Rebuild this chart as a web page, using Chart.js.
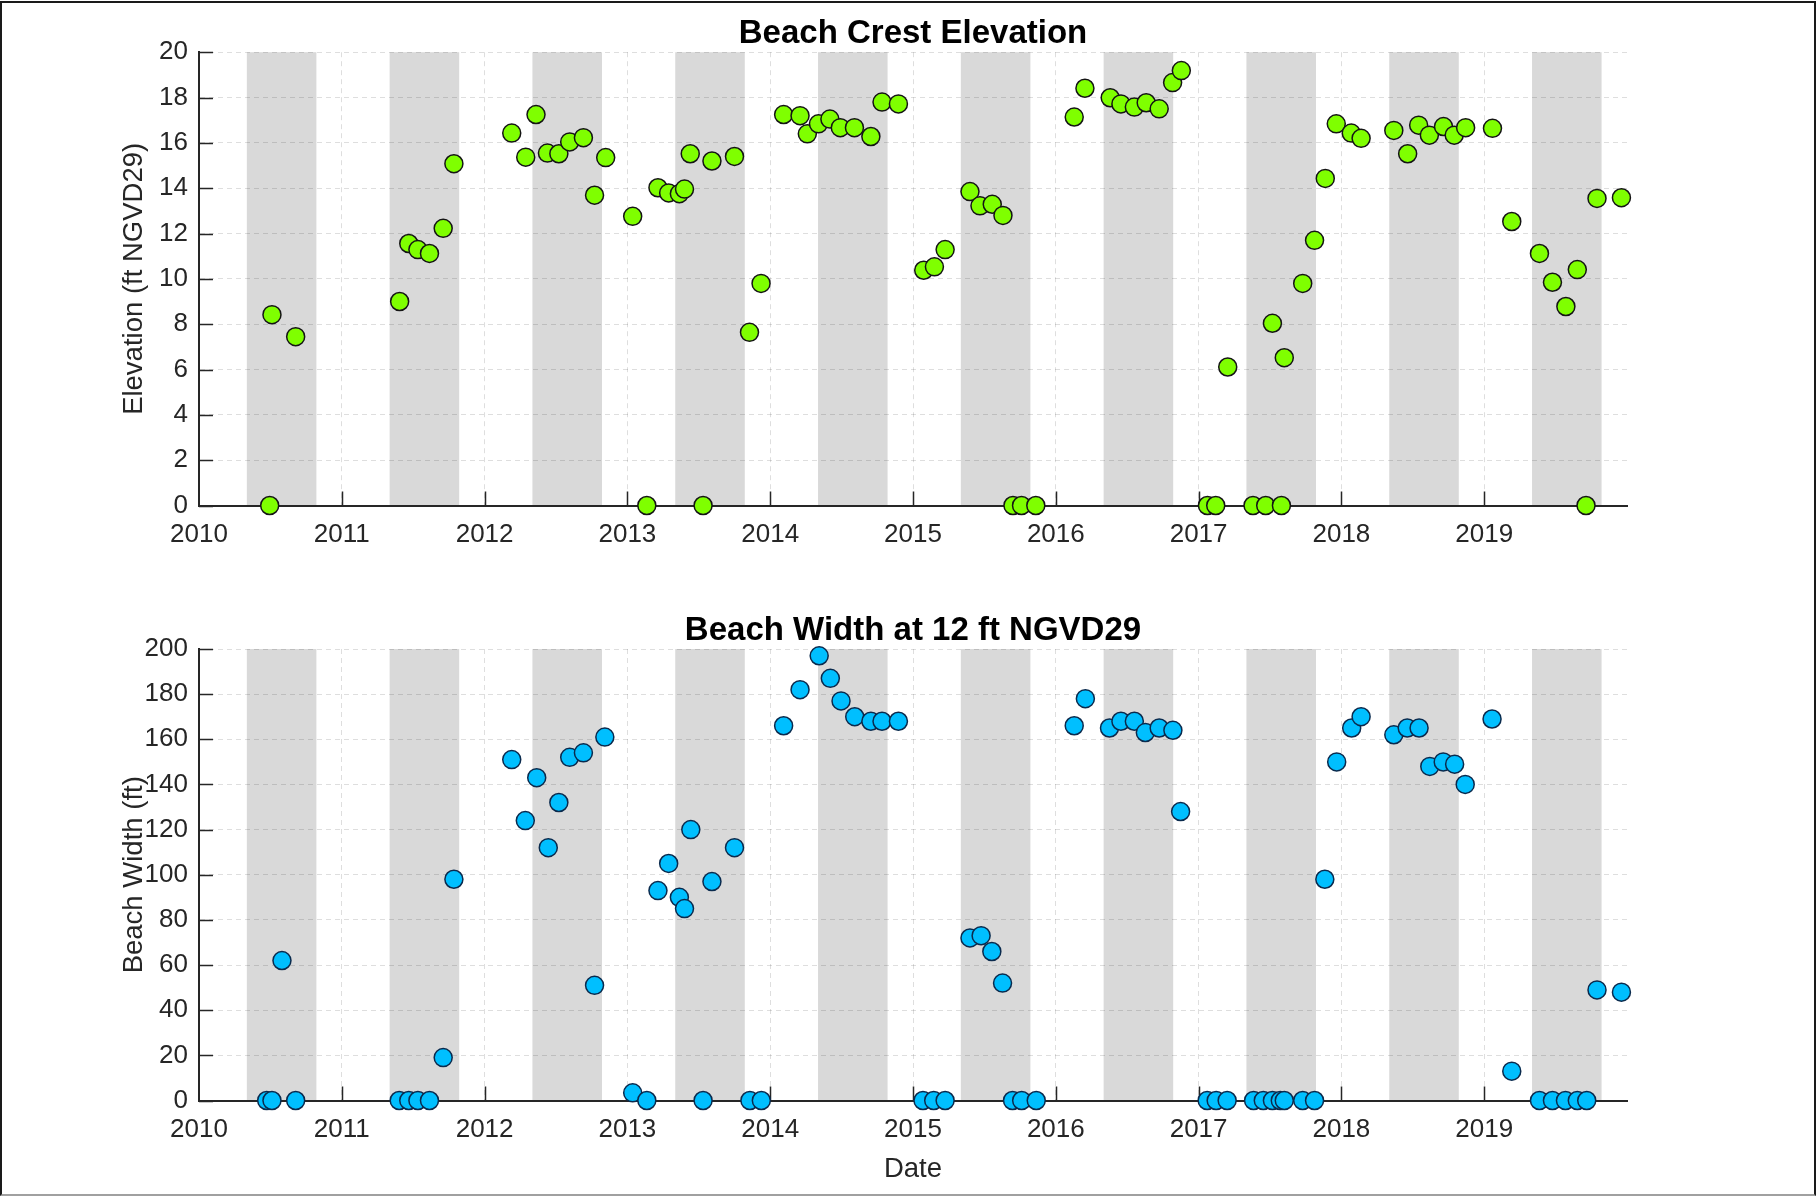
<!DOCTYPE html>
<html><head><meta charset="utf-8">
<script src="https://cdn.jsdelivr.net/npm/chart.js@4.4.0/dist/chart.umd.min.js"></script>
<style>
html,body{margin:0;padding:0;background:#fff;overflow:hidden;}
#frame{position:absolute;left:0;top:1px;width:1812px;height:1191px;border:2px solid #1a1a1a;border-bottom-color:#a0a0a0;}
#c1{position:absolute;left:0;top:0;}
#c2{position:absolute;left:0;top:570px;}
</style></head><body>
<div id="frame"></div>
<canvas id="c1" width="1818" height="570"></canvas>
<canvas id="c2" width="1818" height="627"></canvas>
<script>
// ---- data (dates as decimal years) ----
const crestDates = [2010.495,2010.511,2010.677,2011.405,2011.469,2011.533,2011.614,2011.710,2011.785,
  2012.190,2012.288,2012.360,2012.440,2012.520,2012.596,2012.692,2012.770,2012.848,
  2013.037,2013.136,2013.214,2013.289,2013.364,2013.400,2013.440,2013.530,2013.592,2013.750,2013.855,2013.936,
  2014.094,2014.209,2014.260,2014.338,2014.418,2014.491,2014.590,2014.705,2014.783,2014.898,
  2015.075,2015.150,2015.225,2015.399,2015.469,2015.555,2015.630,2015.700,2015.760,2015.860,
  2016.129,2016.204,2016.381,2016.456,2016.550,2016.633,2016.724,2016.818,2016.879,
  2017.062,2017.120,2017.204,2017.381,2017.470,2017.517,2017.580,2017.600,2017.729,2017.812,2017.887,2017.964,
  2018.069,2018.138,2018.367,2018.464,2018.541,2018.616,2018.715,2018.790,2018.870,
  2019.058,2019.193,2019.387,2019.478,2019.572,2019.652,2019.713,2019.790,2019.961];
const crestValues = [0,8.42,7.45,9.0,11.56,11.29,11.12,12.23,15.08,
  16.43,15.37,17.25,15.55,15.52,16.04,16.23,13.69,15.35,
  12.76,0,14.02,13.79,13.76,13.96,15.52,0,15.20,15.40,7.64,9.80,
  17.25,17.20,16.40,16.84,17.05,16.67,16.67,16.28,17.80,17.72,
  10.38,10.53,11.29,13.85,13.22,13.29,12.80,0,0,0,
  17.14,18.41,17.99,17.72,17.58,17.77,17.50,18.66,19.19,
  0,0,6.11,0,0,8.04,0,6.52,9.80,11.70,14.43,16.84,
  16.43,16.20,16.55,15.52,16.78,16.34,16.72,16.34,16.67,
  16.64,12.53,11.12,9.85,8.78,10.41,0,13.55,13.58];

const widthDates = [2010.474,2010.511,2010.581,2010.677,2011.402,2011.469,2011.533,2011.614,2011.710,2011.785,
  2012.190,2012.285,2012.365,2012.446,2012.520,2012.596,2012.692,2012.770,2012.842,
  2013.037,2013.136,2013.214,2013.289,2013.364,2013.400,2013.444,2013.530,2013.592,2013.750,2013.858,2013.938,
  2014.094,2014.209,2014.343,2014.421,2014.496,2014.592,2014.705,2014.783,2014.898,
  2015.070,2015.145,2015.225,2015.399,2015.477,2015.552,2015.627,2015.697,2015.761,2015.863,
  2016.129,2016.207,2016.376,2016.456,2016.550,2016.627,2016.724,2016.820,2016.874,
  2017.060,2017.123,2017.200,2017.385,2017.453,2017.517,2017.572,2017.600,2017.729,2017.812,2017.884,2017.967,
  2018.072,2018.138,2018.367,2018.461,2018.544,2018.619,2018.713,2018.793,2018.867,
  2019.055,2019.193,2019.387,2019.478,2019.569,2019.652,2019.718,2019.790,2019.961];
const widthValues = [0,0,62,0,0,0,0,0,19,98,
  151,124,143,112,132,152,154,51,161,
  3.4,0,93,105,90,85,120,0,97,112,0,0,
  166,182,197,187,177,170,168,168,168,
  0,0,0,72,73,66,52,0,0,0,
  166,178,165,168,168,163,165,164,128,
  0,0,0,0,0,0,0,0,0,0,98,150,
  165,170,162,165,165,148,150,149,140,
  169,13,0,0,0,0,0,49,48];

// seasonal shading (decimal year start / end)
const bandStarts = [2010.335,2011.335,2012.335,2013.335,2014.335,2015.335,2016.335,2017.335,2018.335,2019.335];
const bandEnds   = [2010.822,2011.822,2012.822,2013.822,2014.822,2015.822,2016.822,2017.822,2018.822,2019.822];

const yearTickLabels = ['2010','2011','2012','2013','2014','2015','2016','2017','2018','2019'];
const elevTickLabels = ['0','2','4','6','8','10','12','14','16','18','20'];
const widthTickLabels = ['0','20','40','60','80','100','120','140','160','180','200'];

// ---- rendering ----
Chart.defaults.font.family = "'Liberation Sans', Arial, Helvetica, sans-serif";
const AX = '#262626';

const bandPlugin = {
  id: 'bands',
  beforeDraw(chart) {
    const {ctx, chartArea} = chart; const xs = chart.scales.x;
    ctx.save(); ctx.fillStyle = '#d9d9d9';
    for (let i = 0; i < bandStarts.length; i++) {
      const a = xs.getPixelForValue(bandStarts[i]), b = xs.getPixelForValue(bandEnds[i]);
      ctx.fillRect(a, chartArea.top, b - a, chartArea.bottom - chartArea.top);
    }
    ctx.restore();
  }
};
const tickPlugin = {
  id: 'inticks',
  beforeDatasetsDraw(chart) {
    const {ctx, chartArea} = chart; const xs = chart.scales.x, ys = chart.scales.y;
    ctx.save(); ctx.strokeStyle = AX; ctx.lineWidth = 1.5; ctx.beginPath();
    xs.ticks.forEach(t => { if (t.value > xs.min) { const p = Math.round(xs.getPixelForValue(t.value)) + 0.5;
      ctx.moveTo(p, chartArea.bottom); ctx.lineTo(p, chartArea.bottom - 14); } });
    ys.ticks.forEach(t => { const p = Math.round(ys.getPixelForValue(t.value)) + 0.5;
      ctx.moveTo(chartArea.left, p); ctx.lineTo(chartArea.left + 14, p); });
    ctx.stroke(); ctx.restore();
  }
};

function makeChart(canvas, cfg) {
  const yVals = cfg.yLabels.map(Number);
  const xVals = yearTickLabels.map(Number);
  return new Chart(canvas, {
    type: 'scatter',
    data: { datasets: [{
      data: cfg.dates.map((d, i) => ({x: d, y: cfg.values[i]})),
      pointRadius: 9, pointBackgroundColor: cfg.fill, pointBorderColor: cfg.edge,
      pointBorderWidth: 1.5, showLine: false, clip: false
    }]},
    plugins: [bandPlugin, tickPlugin],
    options: {
      responsive: false, animation: false, events: [],
      layout: { padding: {left: 0, right: 191, top: 0, bottom: 0} },
      plugins: {
        legend: {display: false}, tooltip: {enabled: false},
        title: { display: true, fullSize: false, text: cfg.title, color: '#000',
          font: {size: 33, weight: 'bold', lineHeight: 1.0}, padding: cfg.titlePad }
      },
      scales: {
        x: { type: 'linear', min: 2010, max: 2020,
          afterBuildTicks: s => { s.ticks = xVals.map(v => ({value: v})); },
          afterFit: s => { s.height = cfg.xAxisH; },
          ticks: { autoSkip: false, maxRotation: 0, color: AX, font: {size: 26}, padding: 14,
            callback: v => yearTickLabels[xVals.indexOf(v)] },
          grid: { color: 'rgba(0,0,0,0.13)', lineWidth: 1, drawTicks: false },
          border: { color: AX, width: 2, dash: [5, 4] },
          title: { display: !!cfg.xTitle, text: cfg.xTitle || '', color: AX, font: {size: 27.5},
            padding: {top: 0, bottom: 11.2} }
        },
        y: { type: 'linear', min: yVals[0], max: yVals[yVals.length - 1],
          afterBuildTicks: s => { s.ticks = yVals.map(v => ({value: v})); },
          afterFit: s => { s.width = 199; },
          ticks: { color: AX, font: {size: 26}, padding: 11,
            callback: v => cfg.yLabels[yVals.indexOf(v)] },
          grid: { color: 'rgba(0,0,0,0.13)', lineWidth: 1, drawTicks: false },
          border: { color: AX, width: 2, dash: [5, 4] },
          title: { display: true, text: cfg.yTitle, color: AX, font: {size: 27.5},
            padding: {top: 118, bottom: 0} }
        }
      }
    }
  });
}

makeChart(document.getElementById('c1'), {
  dates: crestDates, values: crestValues, fill: '#7fff00', edge: '#141414',
  title: 'Beach Crest Elevation', titlePad: {top: 17.9, bottom: 1.3},
  yLabels: elevTickLabels, yTitle: 'Elevation (ft NGVD29)', xAxisH: 64.5
});
makeChart(document.getElementById('c2'), {
  dates: widthDates, values: widthValues, fill: '#00bfff', edge: '#0a2a4d',
  title: 'Beach Width at 12 ft NGVD29', titlePad: {top: 44.3, bottom: 1.7},
  yLabels: widthTickLabels, yTitle: 'Beach Width (ft)', xAxisH: 96.5, xTitle: 'Date'
});
</script>
</body></html>
